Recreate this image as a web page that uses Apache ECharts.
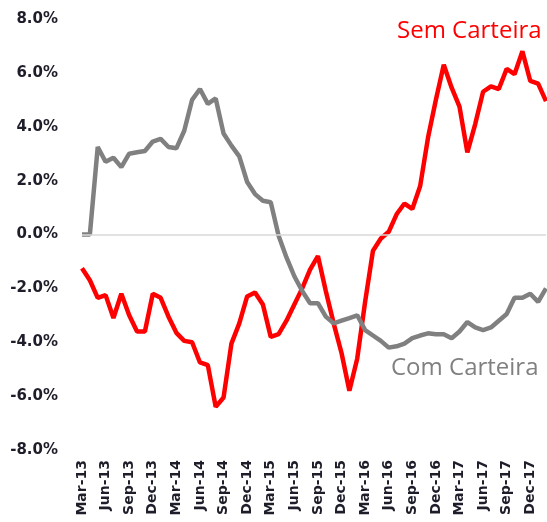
<!DOCTYPE html>
<html>
<head>
<meta charset="utf-8">
<script src="https://cdn.jsdelivr.net/npm/echarts@6/dist/echarts.min.js"></script>
<style>
  html, body { margin: 0; padding: 0; background: #fff; }
  #chart { width: 547px; height: 522px; }
</style>
</head>
<body>
<div id="chart"></div>
<script>
var months = [
  'Mar-13', 'Apr-13', 'May-13', 'Jun-13', 'Jul-13', 'Aug-13', 'Sep-13', 'Oct-13', 'Nov-13', 'Dec-13',
  'Jan-14', 'Feb-14', 'Mar-14', 'Apr-14', 'May-14', 'Jun-14', 'Jul-14', 'Aug-14', 'Sep-14', 'Oct-14', 'Nov-14', 'Dec-14',
  'Jan-15', 'Feb-15', 'Mar-15', 'Apr-15', 'May-15', 'Jun-15', 'Jul-15', 'Aug-15', 'Sep-15', 'Oct-15', 'Nov-15', 'Dec-15',
  'Jan-16', 'Feb-16', 'Mar-16', 'Apr-16', 'May-16', 'Jun-16', 'Jul-16', 'Aug-16', 'Sep-16', 'Oct-16', 'Nov-16', 'Dec-16',
  'Jan-17', 'Feb-17', 'Mar-17', 'Apr-17', 'May-17', 'Jun-17', 'Jul-17', 'Aug-17', 'Sep-17', 'Oct-17', 'Nov-17', 'Dec-17',
  'Jan-18', 'Feb-18'
];

// % change, Sem Carteira (red)
var semCarteira = [
  -1.25, -1.7, -2.35, -2.25, -3.1, -2.2, -3.0, -3.6, -3.6, -2.2,
  -2.35, -3.05, -3.65, -3.95, -4.0, -4.75, -4.85, -6.4, -6.05, -4.05, -3.3, -2.3,
  -2.15, -2.6, -3.8, -3.7, -3.2, -2.6, -2.0, -1.3, -0.8, -2.1, -3.3, -4.4,
  -5.8, -4.6, -2.5, -0.6, -0.15, 0.1, 0.75, 1.15, 0.95, 1.8, 3.6, 5.0,
  6.3, 5.45, 4.75, 3.05, 4.1, 5.3, 5.5, 5.4, 6.15, 5.95, 6.8, 5.7,
  5.6, 4.95
];

// % change, Com Carteira (gray)
var comCarteira = [
  0.0, 0.0, 3.25, 2.7, 2.85, 2.5, 3.0, 3.05, 3.1, 3.45,
  3.55, 3.25, 3.2, 3.85, 5.0, 5.4, 4.85, 5.05, 3.75, 3.3, 2.9, 1.95,
  1.5, 1.25, 1.2, -0.05, -0.85, -1.55, -2.1, -2.55, -2.55, -3.05, -3.3, -3.2,
  -3.1, -3.0, -3.55, -3.75, -3.95, -4.2, -4.15, -4.05, -3.85, -3.75, -3.67, -3.7,
  -3.7, -3.85, -3.6, -3.25, -3.45, -3.55, -3.45, -3.2, -2.95, -2.35, -2.35, -2.2,
  -2.5, -2.0
];

var chart = echarts.init(document.getElementById('chart'));
var option = {
  animation: false,
  grid: { left: 82, right: 1, top: 19, bottom: 72 },
  xAxis: {
    type: 'category',
    data: months,
    boundaryGap: false,
    axisLine: { show: false },
    axisTick: { show: false },
    axisLabel: {
      interval: 2,
      rotate: 90,
      margin: 10,
      color: '#1e1e2a',
      fontFamily: 'DejaVu Sans',
      fontWeight: 'bold',
      fontSize: 14
    }
  },
  yAxis: {
    type: 'value',
    min: -8,
    max: 8,
    interval: 2,
    axisLine: { show: false },
    axisTick: { show: false },
    splitLine: { show: false },
    axisLabel: {
      margin: 24,
      color: '#1e1e2a',
      fontFamily: 'DejaVu Sans',
      fontWeight: 'bold',
      fontSize: 15,
      formatter: function (v) { return v.toFixed(1) + '%'; }
    }
  },
  series: [
    {
      name: 'Sem Carteira',
      type: 'line',
      data: semCarteira,
      showSymbol: false,
      lineStyle: { color: '#ff0000', width: 4.5 },
      itemStyle: { color: '#ff0000' },
      markLine: {
        silent: true,
        symbol: 'none',
        label: { show: false },
        lineStyle: { color: '#d9d9d9', width: 1.5, type: 'solid' },
        data: [{ yAxis: 0 }]
      },
      z: 2
    },
    {
      name: 'Com Carteira',
      type: 'line',
      data: comCarteira,
      showSymbol: false,
      lineStyle: { color: '#808080', width: 4.5 },
      itemStyle: { color: '#808080' },
      z: 3
    }
  ],
  graphic: [
    {
      type: 'text',
      left: 397,
      top: 19,
      style: { text: 'Sem Carteira', fill: '#ff0000', font: '24px "Open Sans"' }
    },
    {
      type: 'text',
      left: 391,
      top: 356,
      style: { text: 'Com Carteira', fill: '#808080', font: '24px "Open Sans"' }
    }
  ]
};
chart.setOption(option);
</script>
</body>
</html>
